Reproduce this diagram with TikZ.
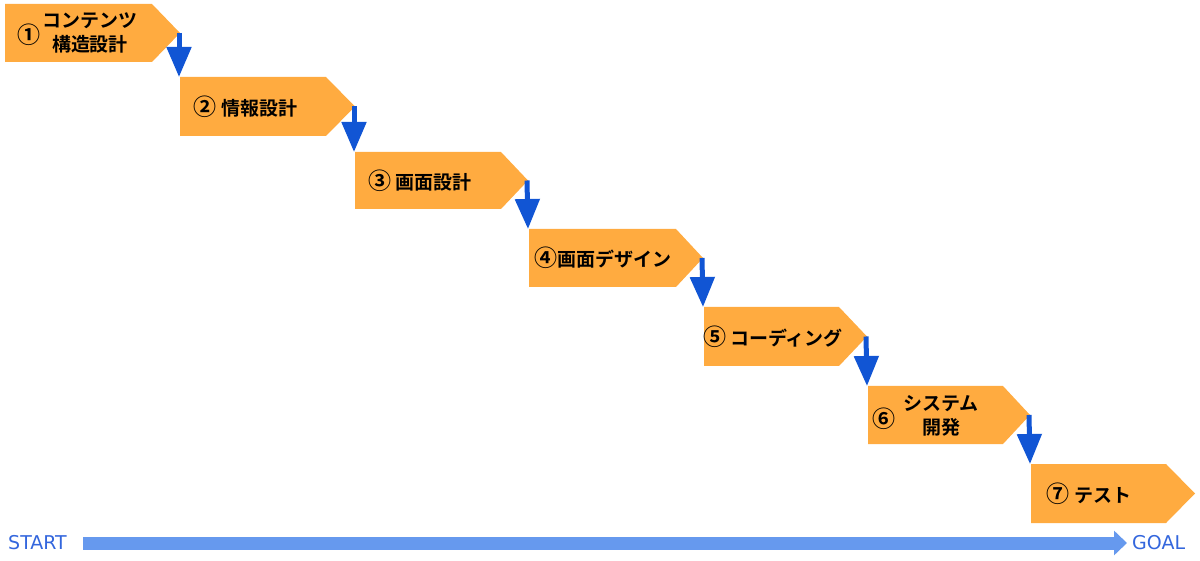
\documentclass[tikz,border=0pt]{standalone}
\usepackage{fontspec}
\setmainfont{DejaVu Sans}
\newfontfamily\jpfont{Noto Sans CJK JP Bold}
\usetikzlibrary{arrows.meta}
\definecolor{boxorange}{HTML}{FFAB40}
\definecolor{flowblue}{HTML}{1155D4}
\definecolor{barblue}{HTML}{6699EE}
\definecolor{labelblue}{HTML}{3366DD}
\newcommand{\cnum}[1]{{\fontsize{23}{25}\selectfont #1}}
\newcommand{\midnum}[1]{\raisebox{-3pt}{\begin{tabular}{@{}c@{}}\cnum{#1}\end{tabular}}}
\tikzset{
  stepshape/.style={fill=boxorange, draw=none},
  steplabel/.style={font=\jpfont\fontsize{19}{24}\selectfont, text=black, inner sep=0pt, align=center},
  flowarrow/.style={draw=flowblue, line width=5pt, -{Triangle[width=24pt,length=30pt]}},
  timebar/.style={draw=barblue, line width=13pt, -{Triangle[width=24pt,length=13pt]}},
  endlabel/.style={font=\fontsize{19}{22}\selectfont, text=labelblue, inner sep=0pt}
}
\begin{document}
\begin{tikzpicture}[x=1pt,y=-1pt]
\useasboundingbox (0,0) rectangle (1200,561);
% boxes: name / left / top / bottom / rect end / tip
\foreach \n/\l/\t/\b/\r/\p in {1/5/4/62/152/180, 2/180/77/136/326/355, 3/355/152/209/501/528, 4/529/229/287/676/703, 5/704/307/366/839/867, 6/868/386/444/1003/1030, 7/1031/464/523/1166/1195}{
  \fill[stepshape] (\l,\t) -- (\r,\t) -- (\p,{(\t+\b)/2}) -- (\r,\b) -- (\l,\b) -- cycle;
  \coordinate (tip\n) at (\p-1,{(\t+\b)/2});
  \coordinate (in\n) at (\l,\t);
  \coordinate (c\n) at ({(\l+\r)/2},{(\t+\b)/2});
}
\node[steplabel] (t1) at ([xshift=-1pt,yshift=-1.5pt]c1) {\midnum{①}\hspace{2pt}\begin{tabular}{@{}c@{}}コンテンツ\\構造設計\end{tabular}};
\node[steplabel] (t2) at ([xshift=-7.5pt]c2) {\cnum{②} 情報設計};
\node[steplabel] (t3) at ([xshift=-8pt]c3) {\cnum{③} 画面設計};
\node[steplabel] (t4) at ([xshift=0pt]c4) {\cnum{④}画面デザイン};
\node[steplabel] (t5) at ([xshift=1.5pt]c5) {\cnum{⑤} コーディング};
\node[steplabel] (t6) at ([xshift=-10pt,yshift=-3pt]c6) {\midnum{⑥}\hspace{8pt}\begin{tabular}{@{}c@{}}システム\\開発\end{tabular}};
\node[steplabel] (t7) at ([xshift=-9.5pt]c7) {\cnum{⑦} テスト};
% flow arrows
\foreach \a/\b in {1/2,2/3,3/4,4/5,5/6,6/7}{
  \draw[flowarrow] (tip\a) -- ([xshift=-1pt]in\b);
}
% time bar
\node[endlabel, anchor=west] (start) at (8,543) {START};
\node[endlabel, anchor=west] (goal) at (1132,543) {GOAL};
\coordinate (barstart) at (83,543);
\coordinate (barend) at (1127,543);
\draw[timebar] (barstart) -- (barend);
\end{tikzpicture}
\end{document}
